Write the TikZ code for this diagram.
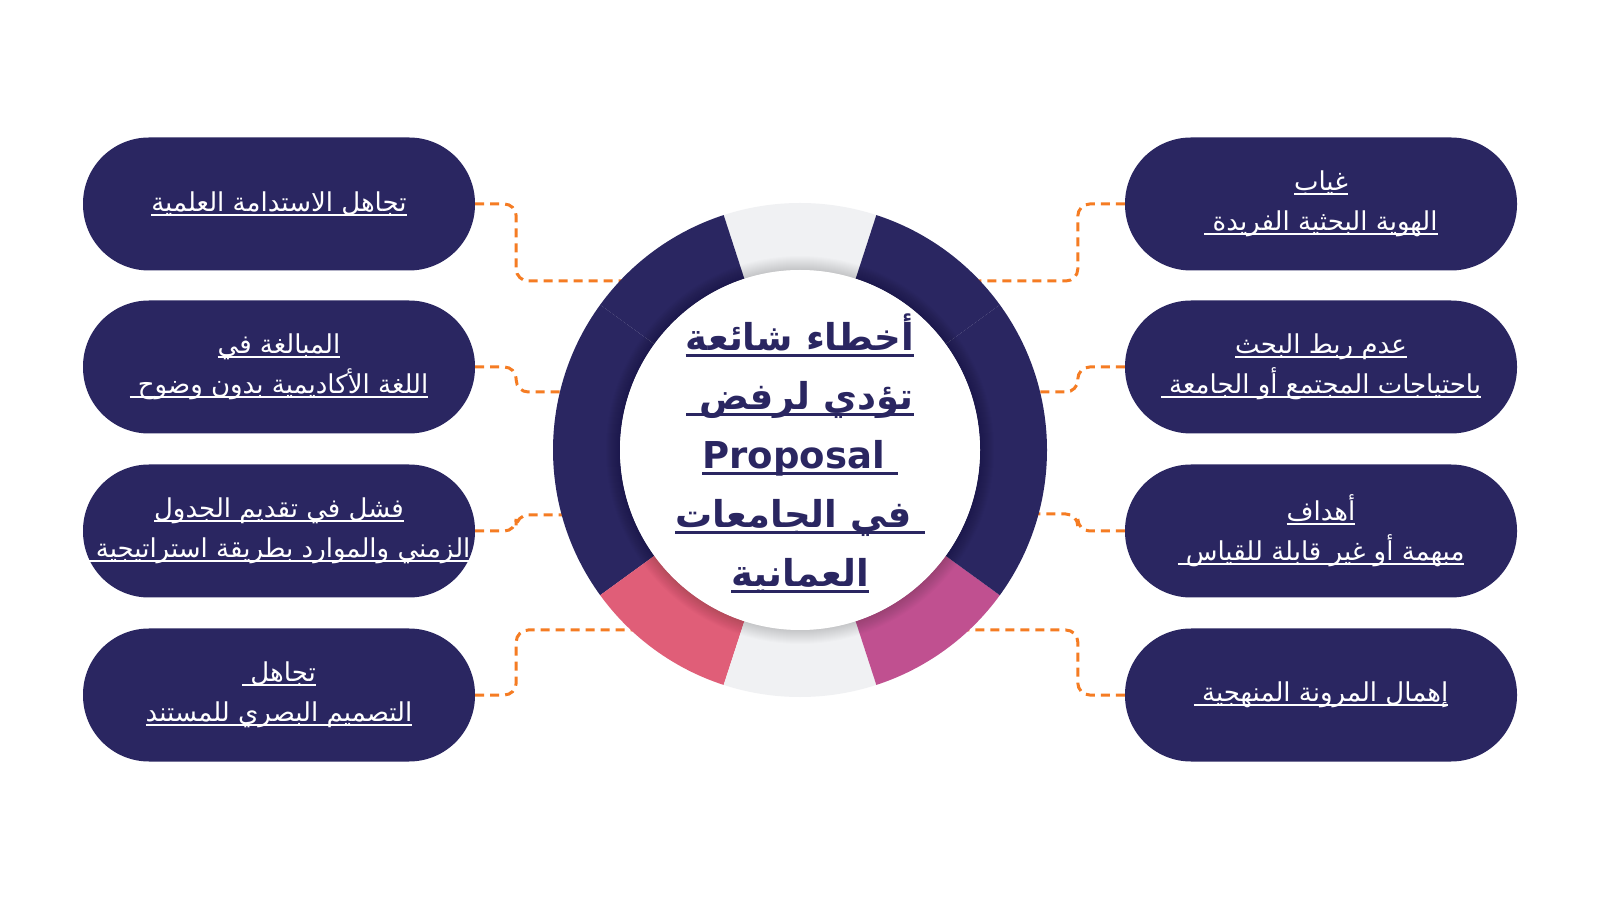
\documentclass[tikz,border=0pt]{standalone}
\usepackage{fontspec}
\usepackage{tikz}
\usetikzlibrary{positioning}
\usepackage{xcolor}
\TeXXeTstate=1
\newfontfamily\arabicfont[Script=Arabic]{DejaVu Sans}
\newfontfamily\latinfont{DejaVu Sans}
\definecolor{pillnavy}{RGB}{42,38,97}
\definecolor{ringgray}{RGB}{240,241,243}
\definecolor{ringpink}{RGB}{224,94,120}
\definecolor{ringmauve}{RGB}{192,80,144}
\definecolor{linkorange}{RGB}{245,124,35}
\newcommand{\ulbox}[1]{\setbox0=\hbox{#1}\leavevmode\rlap{\raisebox{-0.17em}{\rule{\wd0}{0.07em}}}\box0}

\begin{document}
\begin{tikzpicture}[x=1pt,y=1pt,
  pill/.style={rectangle, fill=pillnavy, rounded corners=66pt, minimum width=392pt, minimum height=133pt, inner sep=0pt, align=center, text=white, font=\arabicfont\fontsize{26}{40}\selectfont},
  link/.style={draw=linkorange, line width=3pt, dash pattern=on 9pt off 6pt, rounded corners=12pt}]
\fill[white] (0,0) rectangle (1600,900);
\useasboundingbox (0,0) rectangle (1600,900);

\node[pill] (l1) at (279,696) {\ulbox{\beginR تجاهل الاستدامة العلمية\endR}};
\node[pill] (l2) at (279,533) {\ulbox{\beginR المبالغة في\endR}\\ \ulbox{\beginR اللغة الأكاديمية بدون وضوح\ \endR}};
\node[pill] (l3) at (279,369) {\ulbox{\beginR فشل في تقديم الجدول\endR}\\ \ulbox{\beginR الزمني والموارد بطريقة استراتيجية\ \endR}};
\node[pill] (l4) at (279,205) {\ulbox{\beginR تجاهل\ \endR}\\ \ulbox{\beginR التصميم البصري للمستند\endR}};
\node[pill] (r1) at (1321,696) {\ulbox{\beginR غياب\endR}\\ \ulbox{\beginR الهوية البحثية الفريدة\ \endR}};
\node[pill] (r2) at (1321,533) {\ulbox{\beginR عدم ربط البحث\endR}\\ \ulbox{\beginR باحتياجات المجتمع أو الجامعة\ \endR}};
\node[pill] (r3) at (1321,369) {\ulbox{\beginR أهداف\endR}\\ \ulbox{\beginR مبهمة أو غير قابلة للقياس\ \endR}};
\node[pill] (r4) at (1321,205) {\ulbox{\beginR إهمال المرونة المنهجية\ \endR}};

\coordinate (cl1) at (624,619);
\coordinate (cl2) at (564,508);
\coordinate (cl3) at (566,385);
\coordinate (cl4) at (635,270);
\coordinate (cr1) at (976,619);
\coordinate (cr2) at (1036,508);
\coordinate (cr3) at (1034,386);
\coordinate (cr4) at (965,270);

\draw[link] (l1.east) -- ++(41,0) |- (cl1);
\draw[link] (l2.east) -- ++(41,0) |- (cl2);
\draw[link] (l3.east) -- ++(41,0) |- (cl3);
\draw[link] (l4.east) -- ++(41,0) |- (cl4);
\draw[link] (r1.west) -- ++(-47,0) |- (cr1);
\draw[link] (r2.west) -- ++(-47,0) |- (cr2);
\draw[link] (r3.west) -- ++(-47,0) |- (cr3);
\draw[link] (r4.west) -- ++(-47,0) |- (cr4);

\begin{scope}[shift={(800,450)}]
\foreach \a/\b/\c in {72/108/ringgray,108/144/pillnavy,144/216/pillnavy,216/252/ringpink,252/288/ringgray,288/324/ringmauve,-36/36/pillnavy,36/72/pillnavy}
  \fill[\c] (\a:247) arc[start angle=\a, end angle=\b, radius=247] -- (\b:180) arc[start angle=\b, end angle=\a, radius=180] -- cycle;
\foreach \r in {1,...,14}
  \fill[black, opacity=0.012] (0,0) circle[radius=180+\r];
\fill[white] (0,0) circle[radius=180];
\end{scope}

\node[font=\arabicfont\bfseries\fontsize{37}{59}\selectfont, text=pillnavy, align=center] (title) at (800,447) {\ulbox{\beginR أخطاء شائعة\endR}\\ \ulbox{\beginR تؤدي لرفض\ \endR}\\ \ulbox{\latinfont\bfseries Proposal\ }\\ \ulbox{\beginR\ في الجامعات\endR}\\ \ulbox{\beginR العمانية\endR}};
\end{tikzpicture}
\end{document}
